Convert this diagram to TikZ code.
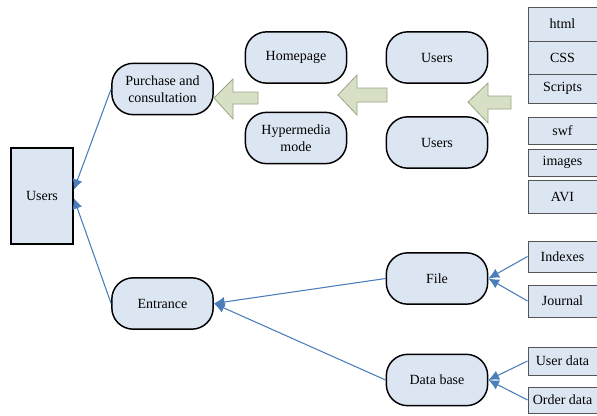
\documentclass[tikz,border=0pt]{standalone}
\usepackage{fontspec}
\setmainfont{Liberation Serif}
\usetikzlibrary{arrows.meta}
\definecolor{nodefill}{HTML}{DCE6F2}
\definecolor{linkblue}{HTML}{4A7EBB}
\definecolor{arrfill}{HTML}{D7E0C5}
\definecolor{arrdraw}{HTML}{9AA587}
\definecolor{boxdraw}{HTML}{555555}
\tikzset{
  rnd/.style={draw=black, line width=1.1pt, fill=nodefill, rounded corners=16pt,
    minimum width=76pt, minimum height=38.5pt, inner sep=0pt, align=center,
    font=\fontsize{10.5}{13}\selectfont},
  bigbox/.style={draw=black, line width=1.1pt, fill=nodefill, inner sep=0pt,
    minimum width=46.5pt, minimum height=72pt, font=\fontsize{10.5}{13}\selectfont},
  sbox/.style={draw=boxdraw, line width=0.7pt, fill=nodefill, inner sep=0pt,
    minimum width=51.75pt, font=\fontsize{10.5}{13}\selectfont},
  conn/.style={draw=linkblue, line width=0.8pt, -{Latex[length=8pt,width=7.5pt]}},
  blockarrow/.style={draw=arrdraw, fill=arrfill, line width=0.6pt, line join=miter}
}
\begin{document}
\begin{tikzpicture}[x=0.75pt, y=-0.75pt]
\useasboundingbox (0,0) rectangle (597,415);
\fill[white] (0,0) rectangle (597,415);

% main nodes
\node[bigbox] (U0) at (42,196) {Users};
\node[rnd] (P) at (162.5,89) {Purchase and\\consultation};
\node[rnd] (H) at (296,57.5) {Homepage};
\node[rnd] (HM) at (296,138) {Hypermedia\\mode};
\node[rnd] (U1) at (437,57.5) {Users};
\node[rnd] (U2) at (437,142.5) {Users};
\node[rnd] (E) at (162.5,303.5) {Entrance};
\node[rnd] (F) at (437,278.5) {File};
\node[rnd] (D) at (437,380) {Data base};

% right boxes
\node[sbox, minimum height=25.5pt] (html) at (562.5,24) {html};
\node[sbox, minimum height=24.75pt] (css) at (562.5,57.5) {CSS};
\node[sbox, minimum height=21.75pt] (scr) at (562.5,88.5) {Scripts};
\node[sbox, minimum height=20.25pt] (swf) at (562.5,130.5) {swf};
\node[sbox, minimum height=20.25pt] (img) at (562.5,162.5) {images};
\node[sbox, minimum height=24.75pt] (avi) at (562.5,196.5) {AVI};
\node[sbox, minimum height=23.25pt] (idx) at (562.5,256.5) {Indexes};
\node[sbox, minimum height=24pt] (jou) at (562.5,301) {Journal};
\node[sbox, minimum height=21pt] (ud) at (562.5,361) {User data};
\node[sbox, minimum height=19.5pt] (od) at (562.5,400) {Order data};

% block arrows
\draw[blockarrow] (214,98) -- (233,79) -- (233,92) -- (258,92) -- (258,104) -- (233,104) -- (233,119) -- cycle;
\draw[blockarrow] (338,95) -- (357,75) -- (357,88) -- (387,88) -- (387,102) -- (357,102) -- (357,115) -- cycle;
\draw[blockarrow] (468,102) -- (488,83) -- (488,96) -- (511,96) -- (511,109) -- (488,109) -- (488,123) -- cycle;

% connectors
\draw[conn] (P.west) -- ([yshift=4.5pt]U0.east);
\draw[conn] (E.west) -- ([yshift=-1.5pt]U0.east);
\draw[conn] (F.west) -- (E.east);
\draw[conn] (D.west) -- (E.east);
\draw[conn] (idx.west) -- (F.east);
\draw[conn] (jou.west) -- (F.east);
\draw[conn] (ud.west) -- (D.east);
\draw[conn] (od.west) -- (D.east);
\end{tikzpicture}
\end{document}
